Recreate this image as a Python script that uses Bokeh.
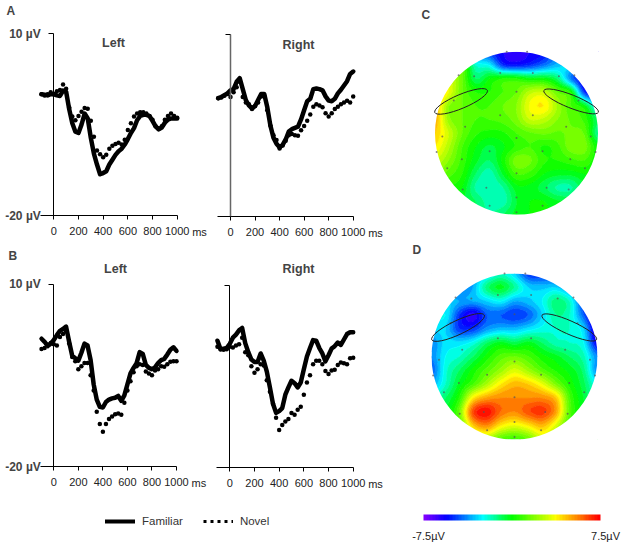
from bokeh.plotting import figure
from bokeh.layouts import column, row
from bokeh.models import Range1d, FixedTicker, Label, Legend, LegendItem, ColorBar, LinearColorMapper
from bokeh.embed import file_html
from bokeh.resources import INLINE
import numpy as np

FONT = "Liberation Sans"

# ---------- ERP data (µV), one value per entry of TIMES ----------
TIMES = [-100, -75, -50, -25, 0, 25, 50, 75, 100, 125, 150, 175, 200, 225, 250, 275, 300, 325, 350, 375, 400,
         425, 450, 475, 500, 525, 550, 575, 600, 625, 650, 675, 700, 725, 750, 775, 800, 825, 850, 875, 900,
         925, 950, 975, 1000]

A_LEFT_FAMILIAR = [0, -.1, -.2, 0, 0, -.2, -.3, .6, .4, -2.5, -4.8, -6.2, -6.4, -5, -3.2, -4, -7.2, -9.8, -11.6, -13.2, -13,
                   -12.7, -11.6, -10.8, -10, -9.4, -9, -8.3, -7.4, -6.4, -5.6, -4.3, -3.6, -3.4, -3.4, -3.6, -4.4, -5.3, -5.8, -5.5, -4.7,
                   -4.2, -4, -4, -4]
A_LEFT_NOVEL = [0, -.2, 0, .3, 0, .5, .7, 1.6, .9, -2.2, -3.7, -4.3, -3.6, -2.9, -2.3, -2.4, -4.4, -7, -9.3, -9.9, -10.4,
                -10, -9, -8.5, -8.2, -8, -8.3, -7.5, -5.9, -4.8, -3.7, -3.2, -3, -3, -3.2, -3.6, -4.2, -5.3, -5.7, -5.3, -4.2,
                -3.6, -3.2, -3.6, -3.9]
A_RIGHT_FAMILIAR = [-.5, -.3, 0, .3, .8, 1, 2.2, 2.8, 1, -.8, -1.7, -2.2, -1.8, -.8, .2, .2, -2, -5, -7, -8, -8.6,
                    -8.2, -7.3, -6, -5.6, -5.4, -5.2, -4, -2.5, -1, -.6, 1, 1.1, 1, .8, -.2, -.9, -1, -.6, .3, .9,
                    1.6, 2.3, 3.5, 3.9]
A_RIGHT_NOVEL = [-.5, -.4, -.1, .2, -.3, .5, 1.3, 2.2, -.3, -1.2, -1.5, -2.3, -1.8, -1.2, -.2, -.1, -2.5, -5, -6.6, -7.4, -8.8,
                 -8.3, -7.5, -6.6, -6.4, -6.6, -6.7, -5.8, -5.1, -4.2, -3.2, -1.9, -1.5, -1.7, -2, -3, -3.5, -3, -2.3, -1.9, -1.5,
                 -1.2, -.9, -1.2, -.2]
B_LEFT_FAMILIAR = [1, .5, -.2, .2, .8, 1.6, 2.3, 2.6, 3, .5, -1.8, -2.2, -2.6, -1.3, .2, -.1, -2.5, -6.5, -9, -10.2, -10.3,
                   -9.4, -9, -8.8, -8.7, -8.4, -9.2, -8.3, -6.5, -4.7, -3.8, -3, -1.2, -1.5, -3.3, -3.8, -4, -3.7, -3, -2.5, -2.3,
                   -1.6, -.8, -.4, -1]
B_LEFT_NOVEL = [-.7, -.5, 0, .3, .1, -.1, 1.3, 1.8, 2.2, .2, -2, -2.7, -4, -3.5, -3, -3, -5, -7.5, -11, -13, -14.3,
                -13, -12.2, -11.8, -11.4, -11.3, -11.5, -9.5, -7.5, -6, -4.5, -3.5, -3.2, -3.3, -4.4, -4.7, -5, -4.2, -4, -3.5, -3.6,
                -3.2, -2.8, -2.7, -2.7]
B_RIGHT_FAMILIAR = [.9, -.5, -.4, -.3, .4, 1.4, 1.9, 2.6, 3, .5, -1, -2.2, -2.6, -2.6, -1.2, -2.4, -4.2, -6.8, -9.5, -11, -10.7,
                    -10.2, -8, -6.8, -5.7, -6.1, -6.8, -6, -3.8, -1.7, -.3, 1, .9, -.3, -1.2, -2.5, -1.5, -.4, 0, .6, .2,
                    1.1, 2, 2.3, 2.3]
B_RIGHT_NOVEL = [-.1, -.5, -.6, -.5, -.1, -.2, .1, .3, 1.4, -1, -1.5, -3.3, -4.4, -3.8, -3, -3.2, -5.6, -7.5, -9.5, -11.8, -13.8,
                 -13, -12.4, -12, -11, -11.3, -10.5, -10, -8, -6, -4.8, -3, -2.4, -2.4, -3, -4.1, -4.6, -4, -3.9, -3.1, -2.7,
                 -2.8, -3, -2, -1.9]

X_TICKS = [0, 200, 400, 600, 800, 1000]
Y_TICKS = [-20, 10]
Y_TICK_LABELS = {-20: "-20 µV", 10: "10 µV"}
LEGEND_LABELS = ["Familiar", "Novel"]
COLORBAR_LABELS = ["-7.5µV", "7.5µV"]

# ---------- scalp map values (µV) read on a grid of normalised head coordinates, rows top to bottom ----------
GRID = [-1, -5/6, -4/6, -3/6, -2/6, -1/6, 0, 1/6, 2/6, 3/6, 4/6, 5/6, 1]
MAP_C = [
 [-3, -3, -3, -4, -5, -6, -6.3, -6, -5.5, -4, -4, -5, -6],
 [1, 1, 1, -2, -2.5, -5, -5.4, -5, -4.2, -3.3, -3, -5, -6],
 [3, 3, 1.5, -1, 0, .5, .5, 0, 0, -1, -4, -6, -6],
 [5, 3.5, 1.5, .5, .5, 1, 1.5, 2.8, 3, 1.5, .5, -5, -6],
 [5, 2, 1.5, 1, 1, 1.5, 2, 3.6, 4, 2.4, 1, 0, -3],
 [5, 2.2, 1.5, 1, 1, 1.2, 1.8, 3, 2.8, 2, 1.4, .8, -1],
 [4.5, 3, 1.5, .6, .3, .4, 1, 1.4, 1.6, 1.4, 1.6, 1.4, -1.5],
 [4, 2.6, 1, 0, -.6, -.1, .6, 1, .4, .8, 1.8, 1.8, 0],
 [3, 2, .8, -.3, -1, .2, 1.8, 1.6, .6, .5, .8, 1, 0],
 [2, 1.2, .5, -1, -1.8, -.4, 1, .8, 0, -.3, -.3, 0, 0],
 [1, .5, 0, -1.6, -2, -1.5, -.2, -.2, -.8, -1.6, -1.6, -.5, 0],
 [0, 0, -.5, -1, -1.8, -1.8, -.5, 0, 0, -.4, -.5, 0, 0],
 [0, 0, -.5, -1, -1.5, -1, -.3, 0, 0, 0, 0, 0, 0],
]
MAP_D = [
 [-5, -5, -5, -4, -3, -2, -3, -5, -5, -5, -5, -5, -5],
 [-5, -5, -4.5, -3.5, -1.2, -.3, -1.5, -3, -3.2, -3, -4, -5, -6],
 [-4, -3, -3.5, -3.5, -3, -2.5, -3.5, -3.2, -2.5, -1.2, -2, -5, -6],
 [-3, -2.5, -5, -6.3, -4.5, -4.5, -5, -4.5, -3, -1.5, -2, -4.5, -7],
 [-3, -3, -5, -5, -3.8, -3.3, -3.3, -2.8, -2.3, -2, -2, -3, -7],
 [-4, -2.8, -2.8, -2.3, -1, -.3, -.8, -.3, -1, -1.8, -2, -2.5, -6],
 [-4, -2.5, -2, -1, .2, 1.2, 1.5, 1, .2, -.3, -1, -1.8, -4],
 [-4.5, -2.2, -1, .2, 1.2, 2.2, 3.2, 2.3, 1.2, .4, -.2, -1.2, -4],
 [-3.5, -2, -.3, 1, 2.5, 4, 4.8, 4.5, 3.5, 1.8, .3, -.8, -2.5],
 [-2, -1, .5, 4, 5.2, 5.5, 5.5, 5.5, 5.5, 4.6, 1, -.5, -2],
 [-1, -.5, 1.5, 6.5, 7.4, 6, 5.5, 6.4, 6.8, 5.2, 1.2, -.3, -1],
 [0, 0, 1, 4.5, 5.5, 4, 3.4, 4, 4.8, 3.2, .8, 0, 0],
 [0, 0, 1, 2, 2.5, 1.2, .8, 1.5, 3, 2, 1, 0, 0],
]
ELECTRODE_U = [-.12, .13, -.71, .71, -.52, .52, -.2, .2, 0, -.77, .76, -.2, .2, -.63, .61, -.91, .91, 0, -.98, .97,
               -.33, .32, -.67, .66, -.85, .84, 0, -.37, .37, -.66, .64, 0, -.33, .32, 0]
ELECTRODE_V = [1, 1, .71, .71, .7, .7, .74, .74, .51, .4, .4, .22, .22, .08, .08, -.04, -.04, -.06, -.23, -.23,
               -.22, -.22, -.32, -.32, -.43, -.43, -.49, -.67, -.67, -.69, -.69, -.79, -.89, -.89, -.97]
# ellipse centre u, v, width, height, angle in radians
ELLIPSES_C = [(-.68, .39, .70, .17, .40), (.67, .39, .72, .16, -.38)]
ELLIPSES_D = [(-.68, .35, .70, .17, .44), (.66, .35, .72, .16, -.42)]

# ---------- colour scale ----------
STOPS = [-7.5, -5.6, -2.5, 0, 3.75, 5.5, 7.5]
STOP_COLOURS = [(128, 0, 255), (0, 0, 255), (0, 255, 255), (0, 255, 0), (255, 255, 0), (255, 140, 0), (255, 0, 0)]
LEVELS = [round(-9 + i * .5, 2) for i in range(37)]
def colour(v):
    c = [int(np.interp(v, STOPS, [s[i] for s in STOP_COLOURS])) for i in range(3)]
    return "#%02x%02x%02x" % tuple(c)
PALETTE = [colour(v + .25) for v in LEVELS[:-1]]
LINE_PALETTE = [colour(v) for v in LEVELS]
BAR_PALETTE = [colour(-7.5 + i * .25) for i in range(61)]

# ---------- smooth rendering of the read grid (Catmull-Rom resampling for the contour fill) ----------
def fine_axis(n, f):
    return np.linspace(0, n - 1, (n - 1) * f + 1)

def resample_rows(a, f):
    n = a.shape[0]
    t = fine_axis(n, f)
    i = np.minimum(t.astype(int), n - 2)
    s = (t - i)[:, None]
    p0, p1, p2, p3 = a[np.maximum(i - 1, 0)], a[i], a[i + 1], a[np.minimum(i + 2, n - 1)]
    return .5 * (2 * p1 + (p2 - p0) * s + (2 * p0 - 5 * p1 + 4 * p2 - p3) * s ** 2 + (3 * p1 - p0 - 3 * p2 + p3) * s ** 3)

def smooth(z, f=4):
    a = resample_rows(np.array(z, dtype=float), f)
    return resample_rows(a.T, f).T

# ---------- picture geometry in pixels ----------
COLS = [(0, 210), (210, 410), (410, 624)]
ROWS = [(0, 240), (240, 505), (505, 546)]

def base(xr, yr, w, h):
    p = figure(width=w, height=h, x_range=Range1d(*xr), y_range=Range1d(*yr), output_backend="svg",
               toolbar_location=None, min_border=0, outline_line_color=None)
    p.grid.visible = False
    p.axis.visible = False
    p.background_fill_color = "white"
    return p

def erp(col, rw, x0, x1, y10, ym20, familiar, novel, title, title_c, title_y, letter=None, labels=False, axis_color="black", axis_w=1):
    (l, r), (t, b) = COLS[col], ROWS[rw]
    kx = (x1 - x0) / 1000
    ky = (ym20 - y10) / 30
    xr = ((l - x0) / kx, (r - x0) / kx)
    yr = (-20 - (b - ym20) / ky, 10 + (y10 - t) / ky)
    p = base(xr, yr, r - l, b - t)
    p.axis.visible = True
    xa, ya = p.xaxis[0], p.yaxis[0]
    xa.fixed_location = -20
    xa.bounds = (-108, 1000)
    xa.ticker = FixedTicker(ticks=X_TICKS)
    xa.major_tick_in = 0
    xa.major_tick_out = 4
    xa.minor_tick_line_color = None
    xa.major_label_standoff = 7
    xa.major_label_text_font = FONT
    xa.major_label_text_font_size = "11px"
    xa.major_label_text_color = "#222222"
    ya.fixed_location = 0
    ya.bounds = (-20, 10)
    ya.ticker = FixedTicker(ticks=Y_TICKS)
    ya.major_tick_in = 0
    ya.major_tick_out = 5
    ya.minor_tick_line_color = None
    ya.axis_line_color = axis_color
    ya.axis_line_width = axis_w
    ya.major_label_orientation = "horizontal"
    ya.major_label_text_font = FONT
    ya.major_label_text_font_style = "bold"
    ya.major_label_text_font_size = "12px"
    ya.major_label_standoff = 8
    ya.major_label_overrides = Y_TICK_LABELS if labels else {-20: "", 10: ""}
    p.scatter(TIMES, novel, size=4.5, color="black", line_color=None)
    p.line(TIMES, familiar, line_width=4.5, color="black", line_join="round", line_cap="round")
    p.add_layout(Label(x=1000, y=-20, x_offset=15, y_offset=-22, text="ms", text_font=FONT, text_font_size="11px", text_color="#222222"))
    tx = (title_c - x0) / kx
    ty = 10 + (y10 - title_y) / ky
    p.add_layout(Label(x=tx, y=ty, text=title, text_font=FONT, text_font_style="bold", text_font_size="12.5px",
                       text_align="center", text_baseline="middle"))
    if letter:
        p.add_layout(Label(x=(letter[1] - x0) / kx, y=10 + (y10 - letter[2]) / ky, text=letter[0], text_font=FONT,
                           text_font_style="bold", text_font_size="12px", text_baseline="middle"))
    return p

def topo(rw, cx, cy, rad, z, ellipses, letter):
    (l, r), (t, b) = COLS[2], ROWS[rw]
    p = base(((l - cx) / rad, (r - cx) / rad), ((cy - b) / rad, (cy - t) / rad), r - l, b - t)
    zz = smooth(np.array(z, dtype=float)[::-1])
    fine = np.linspace(-1, 1, zz.shape[0])
    p.contour(fine, fine, zz, LEVELS, fill_color=PALETTE, line_color=LINE_PALETTE, line_width=1)
    p.annulus(x=[0], y=[0], inner_radius=1, outer_radius=1.42, fill_color="white", line_color=None)
    p.scatter(ELECTRODE_U, ELECTRODE_V, size=2, color="#555555", line_color=None, alpha=.7)
    for u, v, w, h, a in ellipses:
        p.ellipse(x=[u], y=[v], width=[w], height=[h], angle=[a], fill_color=None, line_color="#222222", line_width=1)
    p.add_layout(Label(x=(letter[1] - cx) / rad, y=(cy - letter[2]) / rad, text=letter[0], text_font=FONT,
                       text_font_style="bold", text_font_size="12px", text_baseline="middle"))
    return p

a_l = erp(0, 0, 53.3, 176.7, 33, 215, A_LEFT_FAMILIAR, A_LEFT_NOVEL, "Left", 113, 42, ("A", 6, 10), True)
a_r = erp(1, 0, 230, 352.7, 34, 216, A_RIGHT_FAMILIAR, A_RIGHT_NOVEL, "Right", 298, 44, None, False, "#666666", 1.5)
b_l = erp(0, 1, 53.3, 176, 283.5, 466, B_LEFT_FAMILIAR, B_LEFT_NOVEL, "Left", 115, 268, ("B", 8, 255), True)
b_r = erp(1, 1, 229.3, 352.7, 285, 467, B_RIGHT_FAMILIAR, B_RIGHT_NOVEL, "Right", 298, 268)
c = topo(0, 516, 132.7, 81.5, MAP_C, ELLIPSES_C, ("C", 421, 14))
d = topo(1, 514, 356, 83, MAP_D, ELLIPSES_D, ("D", 412, 249))

# legend and colour bar strip, in picture pixels
leg = base((0, 624), (546, 505), 624, 41)
nan = float("nan")
r_f = leg.line([0, 1], [nan, nan], line_width=4, color="black", line_cap="round")
r_n = leg.line([0, 1], [nan, nan], line_width=3, color="black", line_dash="3 4")
legend = Legend(items=[LegendItem(label=LEGEND_LABELS[0], renderers=[r_f]), LegendItem(label=LEGEND_LABELS[1], renderers=[r_n])],
                orientation="horizontal", location=(105, 19), glyph_width=30, glyph_height=12, spacing=20,
                label_text_font=FONT, label_text_font_size="11.5px", label_text_color="#333333", label_standoff=7,
                border_line_color=None, background_fill_color=None, padding=0, margin=0)
leg.add_layout(legend, "center")
mapper = LinearColorMapper(palette=BAR_PALETTE, low=-7.5, high=7.5)
cb = ColorBar(color_mapper=mapper, orientation="horizontal", width=177, height=6, location=(423, 26), padding=0, margin=0,
              major_label_text_font_size="0px", major_tick_line_color=None, bar_line_color=None, border_line_color=None,
              background_fill_color=None, ticker=FixedTicker(ticks=[]))
leg.add_layout(cb, "center")
for txt, xc in zip(COLORBAR_LABELS, (428, 605)):
    leg.add_layout(Label(x=xc, y=535, text=txt, text_font=FONT, text_font_size="11px", text_color="#222222",
                         text_align="center", text_baseline="middle"))

page = column(row(a_l, a_r, c), row(b_l, b_r, d), leg)
open("out.html", "w").write(file_html(page, INLINE))
